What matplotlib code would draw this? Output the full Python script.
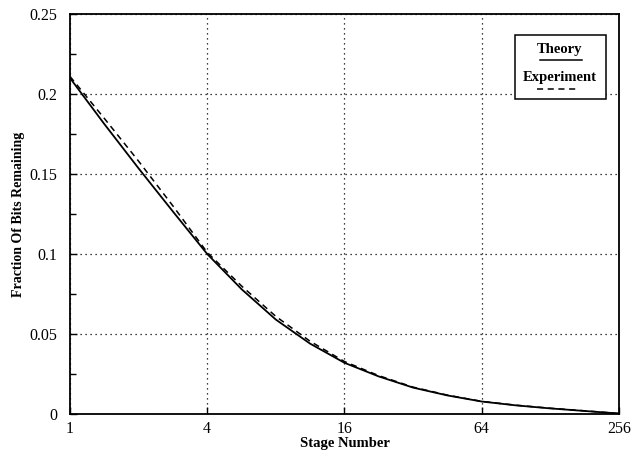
# fraction of bits remaining vs stage number, theory vs experiment
import numpy as np
import matplotlib
matplotlib.use('Agg')
from matplotlib import pyplot as plt
from matplotlib.lines import Line2D
from matplotlib.patches import Rectangle

plt.rcParams['font.family'] = ['Liberation Serif', 'DejaVu Serif']

stages = [1, 1.41, 2, 2.83, 4, 5.66, 8, 11.3, 16, 22.6, 32, 45.3, 64, 90.5, 128, 181, 256]
theory = [0.210, 0.1815, 0.1535, 0.1265, 0.100, 0.078, 0.059, 0.044, 0.032,
          0.0235, 0.0165, 0.0116, 0.0078, 0.0054, 0.0035, 0.0019, 0.0003]
experiment = [0.211, 0.185, 0.158, 0.130, 0.101, 0.080, 0.061, 0.0455, 0.0328,
              0.024, 0.0168, 0.0118, 0.0079, 0.0055, 0.0036, 0.0020, 0.0003]

xticks = [1, 4, 16, 64, 256]
yticks = [0, 0.05, 0.1, 0.15, 0.2, 0.25]
ytick_labels = ['0', '0.05', '0.1', '0.15', '0.2', '0.25']


def plot_bits():
    fig = plt.figure(figsize=(6.38, 4.59), dpi=100)
    ax = fig.add_axes([0.1097, 0.098, 0.8605, 0.8715])

    ax.plot(stages, theory, color='black', lw=1.3, solid_joinstyle='round')
    ax.plot(stages, experiment, color='black', lw=1.1, dashes=(4, 3))

    ax.set_xscale('log', base=2)
    ax.set_xlim(1, 256)
    ax.set_ylim(0, 0.25)
    ax.set_xticks(xticks)
    ax.set_xticklabels([str(t) for t in xticks])
    ax.set_xticks([], minor=True)
    ax.set_yticks(yticks)
    ax.set_yticklabels(ytick_labels)
    ax.set_yticks([0.025, 0.075, 0.125, 0.175, 0.225], minor=True)
    ax.tick_params(which='both', direction='in', labelsize=11.5, length=5, width=1)
    ax.tick_params(which='minor', length=4, right=False)
    ax.tick_params(axis='x', pad=5)
    ax.tick_params(axis='y', pad=9)

    ax.grid(which='major', color='black', linestyle=(0, (1, 3)), linewidth=0.9)
    for s in ax.spines.values():
        s.set_linewidth(1.3)

    ax.set_xlabel('Stage Number', fontsize=10.5, fontweight='bold', labelpad=0)
    ax.set_ylabel('Fraction Of Bits Remaining', fontsize=10, fontweight='bold', labelpad=3)

    # legend box: label above line sample
    tr = ax.transAxes
    ax.add_patch(Rectangle((0.811, 0.7875), 0.165, 0.16, transform=tr,
                           facecolor='white', edgecolor='black', lw=1.1, zorder=5))
    ax.text(0.8925, 0.912, 'Theory', transform=tr, ha='center', va='center',
            fontsize=10.5, fontweight='bold', zorder=6)
    ax.add_line(Line2D([0.856, 0.933], [0.886, 0.886], transform=tr,
                       color='black', lw=1.1, zorder=6))
    ax.text(0.8925, 0.842, 'Experiment', transform=tr, ha='center', va='center',
            fontsize=10.5, fontweight='bold', zorder=6)
    ax.add_line(Line2D([0.851, 0.925], [0.8125, 0.8125], transform=tr,
                       color='black', lw=1.1, dashes=(4, 3), zorder=6))

    fig.savefig('out.png', dpi=100)


if __name__ == '__main__':
    plot_bits()
